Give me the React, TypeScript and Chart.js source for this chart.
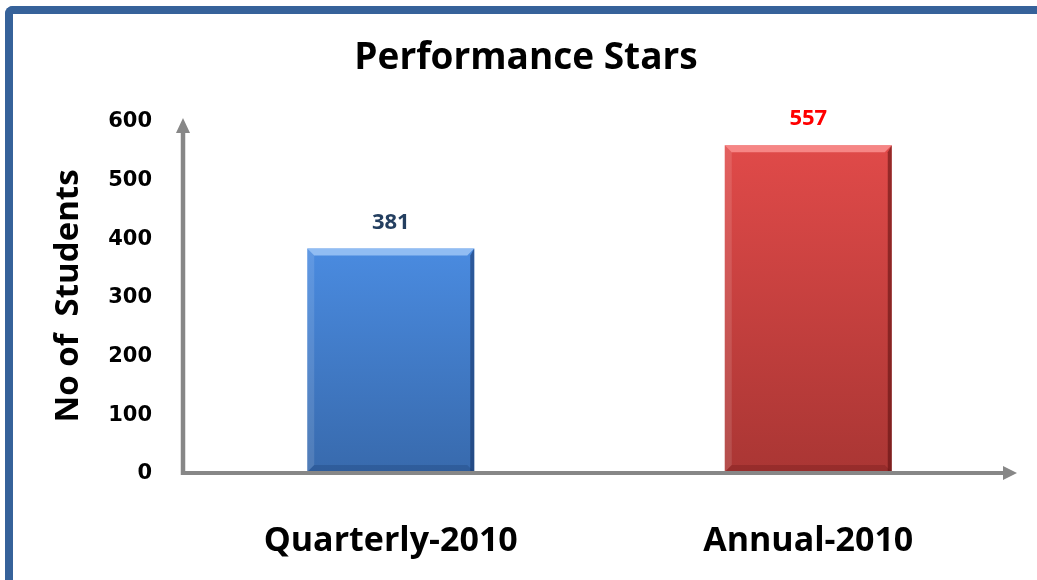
import { useEffect, useRef } from "react";
import { Chart, registerables } from "chart.js";

Chart.register(...registerables);

const categories = ["Quarterly-2010", "Annual-2010"];
const studentCounts = [381, 557];
const yTickValues = [0, 100, 200, 300, 400, 500, 600];
const valueLabelColors = ["#243F60", "#FF0000"];
const barTopColors = ["#4A8BE0", "#E04A49"];
const barBottomColors = ["#386AAD", "#AA3634"];
const barHighlightColors = ["rgba(170,205,250,0.75)", "rgba(255,160,160,0.7)"];
const barEdgeColors = ["rgba(20,50,100,0.55)", "rgba(90,15,15,0.55)"];
const barBottomEdgeColors = ["rgba(20,50,100,0.25)", "rgba(90,15,15,0.25)"];

const FONT = "'Open Sans', Lato, sans-serif";
const TICK_FONT = "'DejaVu Sans', sans-serif";
const AXIS_COLOR = "#878787";

const decorPlugin = {
  id: "decor",
  afterDatasetsDraw(chart: any) {
    const { ctx, chartArea, scales } = chart;
    const meta = chart.getDatasetMeta(0);
    ctx.save();
    // bevel on bars
    meta.data.forEach((el: any, i: number) => {
      const { x, y, base, width } = el.getProps(["x", "y", "base", "width"], true);
      const l = x - width / 2;
      const r = x + width / 2;
      const b = 7;
      ctx.fillStyle = barHighlightColors[i];
      ctx.beginPath();
      ctx.moveTo(l, y);
      ctx.lineTo(r, y);
      ctx.lineTo(r - b, y + b);
      ctx.lineTo(l + b, y + b);
      ctx.closePath();
      ctx.fill();
      ctx.fillStyle = "rgba(255,255,255,0.12)";
      ctx.beginPath();
      ctx.moveTo(l, y);
      ctx.lineTo(l + b, y + b);
      ctx.lineTo(l + b, base - b);
      ctx.lineTo(l, base);
      ctx.closePath();
      ctx.fill();
      ctx.fillStyle = barBottomEdgeColors[i];
      ctx.beginPath();
      ctx.moveTo(l, base);
      ctx.lineTo(l + b, base - b);
      ctx.lineTo(r - b, base - b);
      ctx.lineTo(r, base);
      ctx.closePath();
      ctx.fill();
      ctx.fillStyle = barEdgeColors[i];
      ctx.beginPath();
      ctx.moveTo(r, y);
      ctx.lineTo(r - b + 3, y + b);
      ctx.lineTo(r - b + 3, base);
      ctx.lineTo(r, base);
      ctx.closePath();
      ctx.fill();
    });
    // axes with arrows
    const x0 = chartArea.left + 1;
    const y0 = scales.y.getPixelForValue(0) + 1;
    const top = chartArea.top;
    const right = chartArea.right;
    ctx.strokeStyle = AXIS_COLOR;
    ctx.fillStyle = AXIS_COLOR;
    ctx.lineWidth = 4.5;
    ctx.beginPath();
    ctx.moveTo(x0, y0 + 2);
    ctx.lineTo(x0, top + 8);
    ctx.stroke();
    ctx.beginPath();
    ctx.moveTo(x0, top - 2);
    ctx.lineTo(x0 - 7, top + 13);
    ctx.lineTo(x0 + 7, top + 13);
    ctx.closePath();
    ctx.fill();
    ctx.lineWidth = 4;
    ctx.beginPath();
    ctx.moveTo(x0 - 2, y0);
    ctx.lineTo(right - 8, y0);
    ctx.stroke();
    ctx.beginPath();
    ctx.moveTo(right, y0);
    ctx.lineTo(right - 14, y0 - 7);
    ctx.lineTo(right - 14, y0 + 7);
    ctx.closePath();
    ctx.fill();
    // value labels
    ctx.font = `bold 22px ${FONT}`;
    ctx.textAlign = "center";
    ctx.textBaseline = "middle";
    meta.data.forEach((el: any, i: number) => {
      const { x, y } = el.getProps(["x", "y"], true);
      ctx.fillStyle = valueLabelColors[i];
      ctx.fillText(String(studentCounts[i]), x, y - 26);
    });
    ctx.restore();
  },
};

export default function App() {
  const canvasRef = useRef<HTMLCanvasElement | null>(null);

  useEffect(() => {
    const canvas = canvasRef.current;
    if (!canvas) return;
    const chart = new Chart(canvas, {
      type: "bar",
      data: {
        labels: categories,
        datasets: [
          {
            data: studentCounts,
            backgroundColor: (c: any) => {
              const ch = c.chart;
              const i = c.dataIndex ?? 0;
              const ys = ch.scales?.y;
              if (!ys || !ch.chartArea || c.raw == null) return barTopColors[i];
              const t = ys.getPixelForValue(c.raw);
              const b = ys.getPixelForValue(0);
              const g = ch.ctx.createLinearGradient(0, t, 0, b);
              g.addColorStop(0, barTopColors[i]);
              g.addColorStop(1, barBottomColors[i]);
              return g;
            },
            borderWidth: 0,
            barPercentage: 0.4,
            categoryPercentage: 1,
          },
        ],
      },
      options: {
        animation: false,
        responsive: false,
        layout: { padding: { left: 35, right: 20, top: 0, bottom: 0 } },
        plugins: {
          legend: { display: false },
          tooltip: { enabled: false },
          title: {
            display: true,
            text: "Performance Stars",
            color: "#000000",
            font: { family: FONT, size: 37, weight: "bold", lineHeight: 1.2 },
            padding: { top: 36, bottom: 39.6 },
          },
        },
        scales: {
          x: {
            grid: { display: false },
            border: { display: false },
            ticks: {
              color: "#000000",
              font: { family: FONT, size: 34, weight: "bold", lineHeight: 1.2 },
              padding: 41,
              maxRotation: 0,
            },
            afterFit: (s: any) => {
              s.height = 108;
            },
          },
          y: {
            min: 0,
            max: 600,
            afterBuildTicks: (s: any) => {
              s.ticks = yTickValues.map((v) => ({ value: v }));
            },
            grid: { display: false },
            border: { display: false },
            ticks: {
              color: "#000000",
              font: { family: TICK_FONT, size: 21, weight: "bold" },
              padding: 22,
              labelOffset: 2,
            },
            title: {
              display: true,
              text: "No of  Students",
              color: "#000000",
              font: { family: FONT, size: 33, weight: "bold", lineHeight: 1.2 },
              padding: { top: 14, bottom: 0 },
            },
            afterFit: (s: any) => {
              s.width = 147;
            },
          },
        },
      },
      plugins: [decorPlugin],
    });
    return () => chart.destroy();
  }, []);

  return (
    <div
      style={{
        position: "fixed",
        left: 0,
        top: 0,
        width: 1037,
        height: 580,
        background: "#ffffff",
        overflow: "hidden",
      }}
    >
      <canvas ref={canvasRef} width={1037} height={580} style={{ display: "block" }} />
      <div
        style={{
          position: "absolute",
          left: 5,
          top: 6,
          width: 1100,
          height: 700,
          borderLeft: "8px solid #36629A",
          borderTop: "8px solid #36629A",
          borderTopLeftRadius: 8,
          boxSizing: "border-box",
          pointerEvents: "none",
        }}
      />
    </div>
  );
}
